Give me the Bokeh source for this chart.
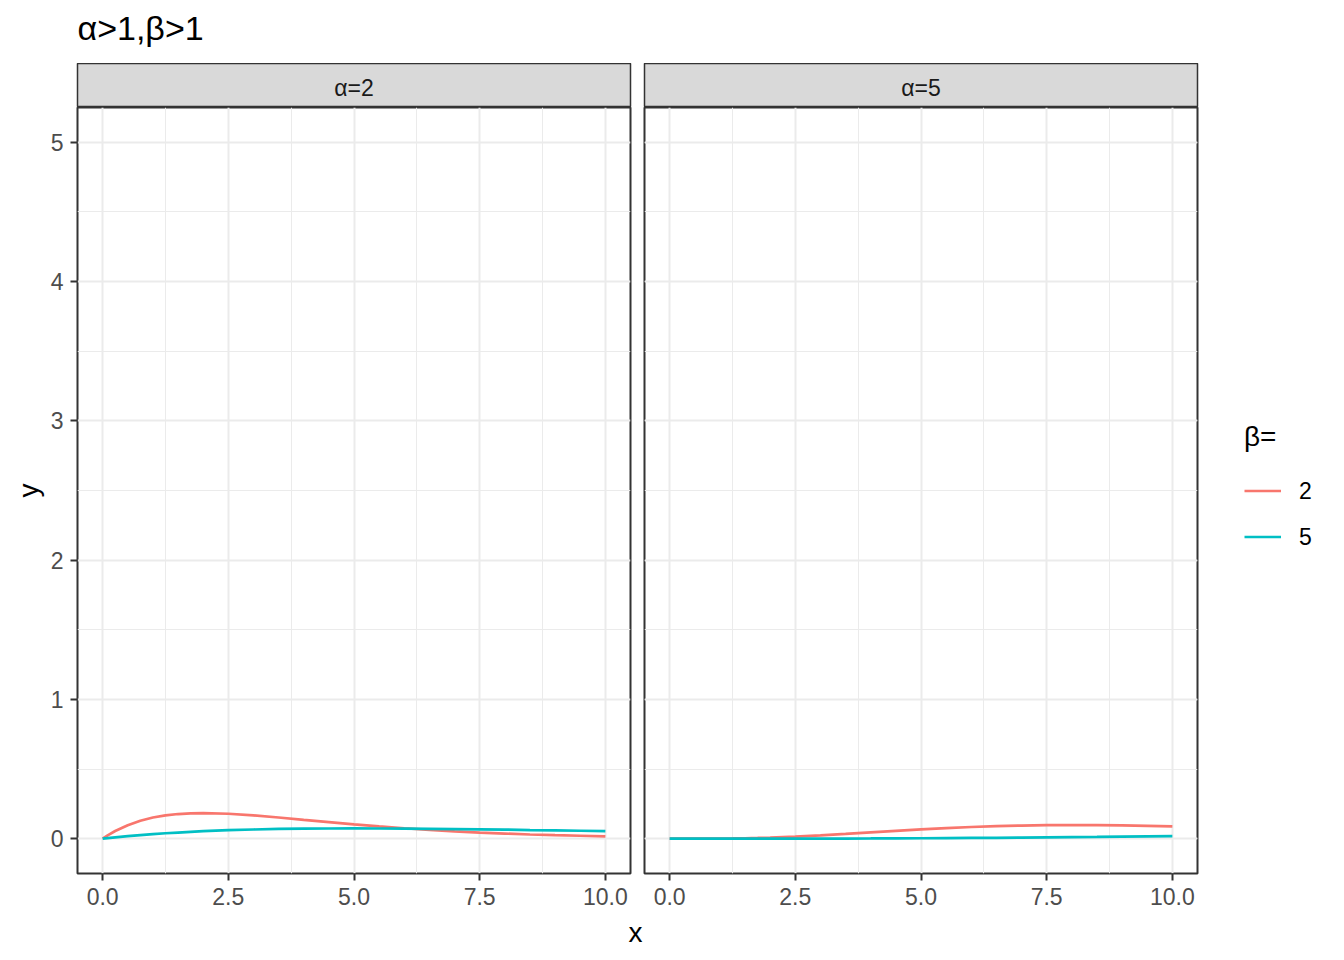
from bokeh.plotting import figure
from bokeh.models import Range1d, FixedTicker, Grid, Legend, LegendItem, NumeralTickFormatter
from bokeh.layouts import column, row
from bokeh.embed import file_html
from bokeh.resources import INLINE
from bokeh.core.properties import value

FONT = "Liberation Sans"

# ---- data ----
x = [0, 0.1, 0.25, 0.5, 0.75, 1, 1.25, 1.5, 1.75, 2, 2.5, 3, 3.5, 4, 4.5, 5,
     5.5, 6, 6.5, 7, 7.5, 8, 8.5, 9, 9.5, 10]
alpha2_beta2 = [0, 0.024, 0.055, 0.097, 0.129, 0.152, 0.167, 0.177, 0.182, 0.184, 0.179, 0.167,
                0.152, 0.135, 0.119, 0.103, 0.088, 0.075, 0.063, 0.053, 0.044, 0.037, 0.030,
                0.025, 0.021, 0.017]
alpha2_beta5 = [0, 0.004, 0.0095, 0.018, 0.026, 0.033, 0.039, 0.044, 0.049, 0.054, 0.061, 0.066,
                0.070, 0.072, 0.073, 0.074, 0.073, 0.072, 0.071, 0.069, 0.067, 0.065, 0.062,
                0.060, 0.057, 0.054]
alpha5_beta2 = [0, 0, 0, 0.0001, 0.0003, 0.0008, 0.0017, 0.0031, 0.0051, 0.0077, 0.0146, 0.0235,
                0.034, 0.0451, 0.0563, 0.0668, 0.0761, 0.084, 0.0901, 0.0944, 0.0969, 0.0977,
                0.0970, 0.0949, 0.0918, 0.0877]
alpha5_beta5 = [0, 0, 0, 0, 0, 0, 0, 0.0001, 0.0001, 0.0001, 0.0003, 0.0006, 0.001, 0.0015,
                0.0022, 0.0031, 0.0041, 0.0052, 0.0065, 0.0079, 0.0094, 0.011, 0.0127, 0.0145,
                0.0162, 0.018]

facet_labels = ["α=2", "α=5"]
facet_series = [[alpha2_beta2, alpha2_beta5], [alpha5_beta2, alpha5_beta5]]
beta_labels = ["2", "5"]
colors = ["#F8766D", "#00BFC4"]
title_text = "α>1,β>1"
x_ticks = [0, 2.5, 5, 7.5, 10]
x_minor = [1.25, 3.75, 6.25, 8.75]
y_ticks = [0, 1, 2, 3, 4, 5]
y_minor = [0.5, 1.5, 2.5, 3.5, 4.5]

# ---- layout constants ----
LEFT = 77
HALF_GAP = 7
PW = 553
LEG_W = 145
TITLE_H = 63
STRIP_H = 44
PH = 766
BOTTOM = 45
XLAB_H = 34

BORDER = "#333333"
GRID = "#EBEBEB"


def bare(width, height, **kw):
    p = figure(width=width, height=height, x_range=Range1d(0, 1), y_range=Range1d(0, 1),
               x_axis_location=None, y_axis_location=None,
               output_backend="svg", toolbar_location=None, frame_align=False,
               min_border_left=kw.get("left", 0), min_border_right=kw.get("right", 0),
               min_border_top=0, min_border_bottom=kw.get("bottom", 0))
    p.xgrid.visible = False
    p.ygrid.visible = False
    p.outline_line_color = None
    return p


# title row
tf = bare(LEFT + PW + HALF_GAP, TITLE_H, left=LEFT)
tf.text(x=[0], y=[36 / TITLE_H], text=[title_text], text_align="left",
        text_baseline="middle", text_font=value(FONT), text_font_size="34px",
        text_color="black")


def strip(i):
    left = LEFT if i == 0 else HALF_GAP
    right = HALF_GAP if i == 0 else 2
    p = bare(left + PW + right, STRIP_H, left=left, right=right)
    p.background_fill_color = "#D9D9D9"
    p.border_fill_color = "white"
    p.outline_line_color = BORDER
    p.outline_line_width = 1.5
    p.text(x=[0.5], y=[0.45], text=[facet_labels[i]], text_align="center",
           text_baseline="middle", text_font=value(FONT), text_font_size="23px",
           text_color="#1A1A1A")
    return p


def panel(i):
    left = LEFT if i == 0 else HALF_GAP
    right = HALF_GAP if i == 0 else 2
    p = figure(width=left + PW + right, height=PH + BOTTOM,
               x_range=Range1d(-0.5, 10.5), y_range=Range1d(-0.25, 5.25),
               y_axis_location="left" if i == 0 else None,
               output_backend="svg", toolbar_location=None, frame_align=False,
               min_border_left=left, min_border_right=right,
               min_border_top=0, min_border_bottom=BOTTOM)
    p.background_fill_color = "white"
    p.border_fill_color = "white"
    p.outline_line_color = BORDER
    p.outline_line_width = 2

    xt = FixedTicker(ticks=x_ticks, minor_ticks=x_minor)
    yt = FixedTicker(ticks=y_ticks, minor_ticks=y_minor)

    axes = [p.xaxis[0]] + ([p.yaxis[0]] if i == 0 else [])
    for ax in axes:
        ax.axis_line_color = None
        ax.major_tick_out = 7
        ax.major_tick_in = 0
        ax.minor_tick_out = 0
        ax.minor_tick_in = 0
        ax.major_tick_line_color = BORDER
        ax.major_tick_line_width = 2
        ax.major_label_text_font = FONT
        ax.major_label_text_font_size = "23px"
        ax.major_label_text_color = "#4D4D4D"
        ax.major_label_standoff = 7
    p.xaxis[0].ticker = xt
    p.xaxis[0].formatter = NumeralTickFormatter(format="0.0")
    if i == 0:
        ya = p.yaxis[0]
        ya.ticker = yt
        ya.axis_label = "y"
        ya.axis_label_text_font = FONT
        ya.axis_label_text_font_size = "28px"
        ya.axis_label_text_font_style = "normal"
        ya.axis_label_text_color = "black"
        ya.axis_label_standoff = 4
        ya.major_label_standoff = 7

    p.xgrid.ticker = xt
    if i == 0:
        p.ygrid.ticker = yt
        grids = [p.xgrid[0], p.ygrid[0]]
    else:
        yg = Grid(dimension=1, ticker=yt)
        p.add_layout(yg)
        grids = [p.xgrid[0], yg]
    for g in grids:
        g.grid_line_color = GRID
        g.grid_line_width = 2
        g.minor_grid_line_color = GRID
        g.minor_grid_line_width = 1

    rs = []
    for k, ys in enumerate(facet_series[i]):
        rs.append(p.line(x, ys, line_color=colors[k], line_width=2.7))
    return p, rs


s1, s2 = strip(0), strip(1)
p1, r1 = panel(0)
p2, r2 = panel(1)

# legend figure (one-point lines: nothing visible in the plot area, only legend keys)
lf = bare(LEG_W, PH + BOTTOM, bottom=BOTTOM)
lr = [lf.line(x=x[:1], y=facet_series[0][k][:1], line_color=colors[k], line_width=2.7)
      for k in range(2)]
legend = Legend(items=[LegendItem(label=beta_labels[k], renderers=[lr[k]]) for k in range(2)],
                location="left", title="β=", orientation="vertical")
legend.border_line_color = None
legend.background_fill_alpha = 0
legend.margin = 45
legend.padding = 0
legend.spacing = 0
legend.glyph_width = 37
legend.glyph_height = 46
legend.label_standoff = 18
legend.label_text_font = FONT
legend.label_text_font_size = "23px"
legend.label_text_color = "black"
legend.title_text_font = FONT
legend.title_text_font_size = "28px"
legend.title_text_font_style = "normal"
legend.title_text_color = "black"
legend.title_standoff = 15
lf.add_layout(legend, "center")

# x axis label
xl = bare(2 * (LEFT + PW + HALF_GAP) - 4, XLAB_H)
xl.text(x=[0.5], y=[0.6], text=["x"], text_align="center", text_baseline="middle",
        text_font=value(FONT), text_font_size="28px", text_color="black")

layout = column(tf, row(s1, s2), row(p1, p2, lf), xl)
open("out.html", "w").write(file_html(layout, INLINE))
